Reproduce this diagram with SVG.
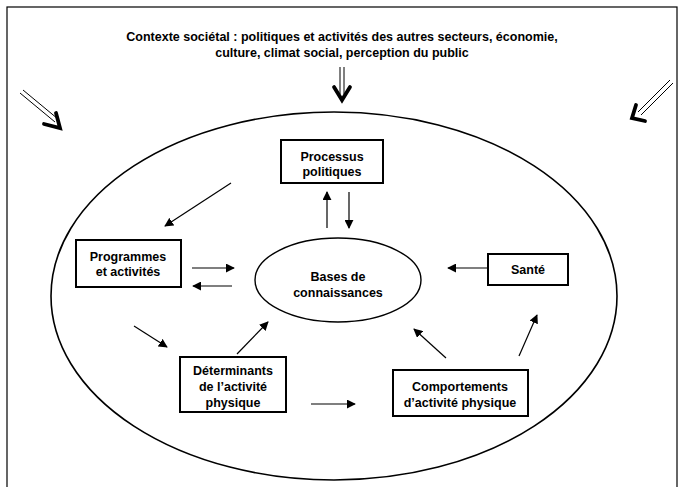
<svg xmlns="http://www.w3.org/2000/svg" width="683" height="487" viewBox="0 0 683 487">
<style>
text{font-family:"Liberation Sans",Arial,sans-serif;font-weight:bold;font-size:12.5px;fill:#000;text-anchor:middle}
.box{fill:#fff;stroke:#000;stroke-width:2}
.ln{stroke:#000;stroke-width:1.2;fill:none}
.dbl{stroke:#000;stroke-width:1;fill:none}
.head{stroke:#000;stroke-width:3.8;fill:none;stroke-linejoin:miter;stroke-linecap:round}
</style>
<defs>
<marker id="ah" viewBox="0 0 10 10" refX="9" refY="5" markerWidth="9" markerHeight="9" markerUnits="userSpaceOnUse" orient="auto">
<path d="M0,0 L10,5 L0,10 z" fill="#000"/>
</marker>
</defs>
<rect x="7" y="7" width="670" height="485" fill="#fff" stroke="#000" stroke-width="1.2"/>
<g id="title">
<text x="342" y="41">Contexte sociétal : politiques et activités des autres secteurs, économie,</text>
<text x="342" y="57">culture, climat social, perception du public</text>
</g>
<g id="context-arrows">
<line class="dbl" x1="340" y1="67" x2="340" y2="94"/>
<line class="dbl" x1="344" y1="67" x2="344" y2="94"/>
<polyline class="head" points="334,87 342,100 350,87"/>
<line class="dbl" x1="20" y1="93" x2="55" y2="122"/>
<line class="dbl" x1="23" y1="90" x2="58" y2="119"/>
<polyline class="head" points="44,124 60,128 56,113"/>
<line class="dbl" x1="670" y1="80" x2="638" y2="112"/>
<line class="dbl" x1="673" y1="83" x2="641" y2="115"/>
<polyline class="head" points="645,121 632,118 636,105"/>
</g>
<g id="societal-context">
<ellipse cx="334" cy="296" rx="283" ry="184" fill="none" stroke="#000" stroke-width="1.6"/>
</g>
<g id="processus">
<rect class="box" x="281" y="140" width="102" height="43"/>
<text x="332" y="161">Processus</text>
<text x="332" y="176">politiques</text>
</g>
<g id="programmes">
<rect class="box" x="76" y="240" width="105" height="47"/>
<text x="128" y="261">Programmes</text>
<text x="128" y="276">et activités</text>
</g>
<g id="bases">
<ellipse cx="338" cy="280" rx="83" ry="42" fill="#fff" stroke="#000" stroke-width="1.4"/>
<text x="338" y="281">Bases de</text>
<text x="338" y="297">connaissances</text>
</g>
<g id="sante">
<rect class="box" x="488" y="254" width="80" height="31"/>
<text x="528" y="274">Santé</text>
</g>
<g id="determinants">
<rect class="box" x="180" y="357" width="106" height="55"/>
<text x="233" y="375">Déterminants</text>
<text x="233" y="391">de l’activité</text>
<text x="233" y="407">physique</text>
</g>
<g id="comportements">
<rect class="box" x="393" y="370" width="135" height="46"/>
<text x="460" y="391">Comportements</text>
<text x="460" y="407">d’activité physique</text>
</g>
<g id="connectors">
<line class="ln" x1="327" y1="228" x2="327" y2="192" marker-end="url(#ah)"/>
<line class="ln" x1="349" y1="192" x2="349" y2="228" marker-end="url(#ah)"/>
<line class="ln" x1="231" y1="183" x2="165" y2="226" marker-end="url(#ah)"/>
<line class="ln" x1="192" y1="268" x2="234" y2="268" marker-end="url(#ah)"/>
<line class="ln" x1="232" y1="286" x2="193" y2="286" marker-end="url(#ah)"/>
<line class="ln" x1="488" y1="268" x2="448" y2="268" marker-end="url(#ah)"/>
<line class="ln" x1="134" y1="326" x2="167" y2="347" marker-end="url(#ah)"/>
<line class="ln" x1="237" y1="354" x2="268" y2="322" marker-end="url(#ah)"/>
<line class="ln" x1="311" y1="404" x2="355" y2="404" marker-end="url(#ah)"/>
<line class="ln" x1="446" y1="358" x2="414" y2="329" marker-end="url(#ah)"/>
<line class="ln" x1="519" y1="356" x2="537" y2="315" marker-end="url(#ah)"/>
</g>
</svg>
